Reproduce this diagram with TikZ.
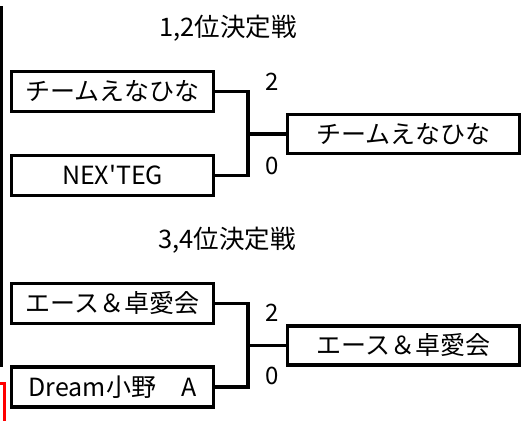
\documentclass[tikz,border=0pt]{standalone}
\usepackage{fontspec}
\setmainfont{Noto Sans CJK JP}
\usetikzlibrary{positioning, calc}
\definecolor{markred}{RGB}{255, 0, 0}

\begin{document}
\begin{tikzpicture}[
    x=1pt, y=-1pt,
    team/.style={rectangle, draw, line width=3.5pt, minimum width=202pt, minimum height=40pt, inner sep=0pt, font=\fontsize{25}{28}\selectfont},
    winner/.style={team, minimum width=232pt, minimum height=39pt},
    link/.style={line width=3.5pt},
    score/.style={font=\fontsize{24}{26}\selectfont, inner sep=0pt},
    title/.style={font=\fontsize{25.5}{28}\selectfont, inner sep=0pt}
]
\useasboundingbox (0,0) rectangle (525,421);

% Side marks
\draw[line width=3.5pt] (1.5,6) -- (1.5,367);
\draw[markred, line width=2.5pt] (0,383.5) -| (4.3,421);

% 1,2 place match
\node[title] (t1) at (228,28) {1,2位決定戦};
\node[team] (a1) at (112.5,91.5) {チームえなひな};
\node[team] (a2) at (112.5,175.5) {NEX\textquotesingle TEG};
\node[winner] (a3) at (403.5,134) {チームえなひな};
\coordinate (j1) at (248,134);

\draw[link] (a1.east) -| (j1 |- a2.east) -- (a2.east);
\draw[link] (j1) -- (a3.west);

\node[score] (s1) at (272,82) {2};
\node[score] (s2) at (272,166) {0};

% 3,4 place match
\node[title] (t2) at (227,240) {3,4位決定戦};
\node[team] (b1) at (112.5,303.5) {エース＆卓愛会};
\node[team] (b2) at (112.5,387) {Dream小野　A};
\node[winner] (b3) at (403.5,345.5) {エース＆卓愛会};
\coordinate (j2) at (248,345.5);

\draw[link] (b1.east) -| (j2 |- b2.east) -- (b2.east);
\draw[link] (j2) -- (b3.west);

\node[score] (s3) at (272,313) {2};
\node[score] (s4) at (272,376) {0};

\end{tikzpicture}
\end{document}
